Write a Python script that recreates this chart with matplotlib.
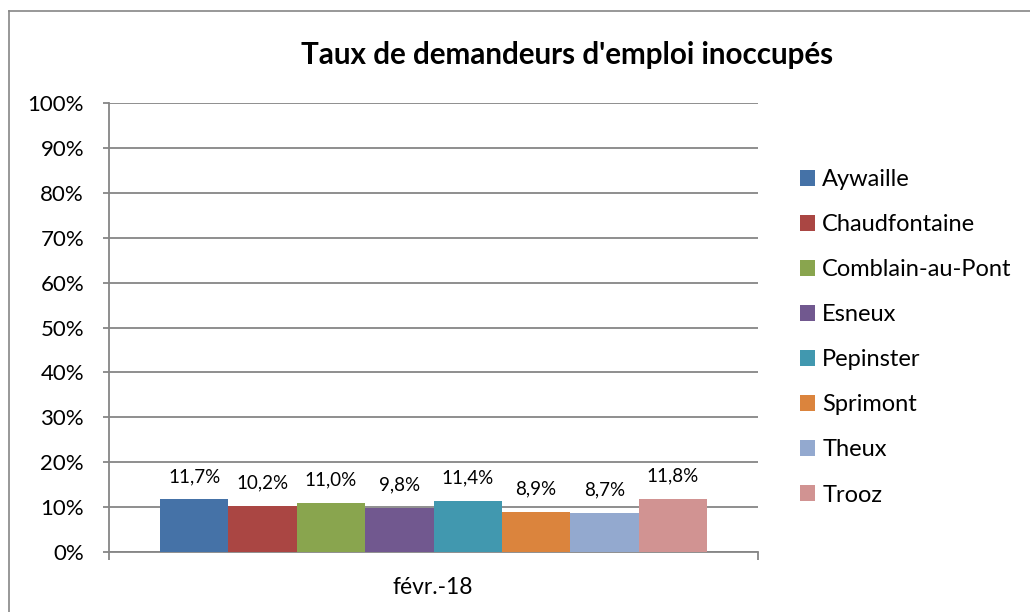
import matplotlib
matplotlib.use("Agg")
import matplotlib.pyplot as plt
from matplotlib.lines import Line2D
from matplotlib.ticker import FuncFormatter

title = "Taux de demandeurs d'emploi inoccupés"
category = "févr.-18"
communes = ["Aywaille", "Chaudfontaine", "Comblain-au-Pont", "Esneux",
            "Pepinster", "Sprimont", "Theux", "Trooz"]
values = [11.7, 10.2, 11.0, 9.8, 11.4, 8.9, 8.7, 11.8]
colors = ["#4572A7", "#AA4643", "#89A54E", "#71588F",
          "#4198AF", "#DB843D", "#93A9CF", "#D19392"]
yticks = [0, 10, 20, 30, 40, 50, 60, 70, 80, 90, 100]

plt.rcParams['font.family'] = ['Lato', 'DejaVu Sans']

W, H = 1030, 612
fig = plt.figure(figsize=(W / 100, H / 100), dpi=100)
fig.patch.set_facecolor("white")

# outer chart border: only left and top edges are visible in the reference
bc = "#868686"
fig.lines.append(Line2D([8.5 / W, 8.5 / W], [0, 1 - 10.5 / H],
                        transform=fig.transFigure, color=bc, linewidth=1.2))
fig.lines.append(Line2D([8.5 / W, 1.0], [1 - 10.5 / H, 1 - 10.5 / H],
                        transform=fig.transFigure, color=bc, linewidth=1.2))

ax = fig.add_axes([109 / W, 1 - 552 / H, (758 - 109) / W, (552 - 103) / H])
grid_c = "#868686"

total = 0.843
n = len(values)
bw = total / n
for i, (name, v, c) in enumerate(zip(communes, values, colors)):
    x = -total / 2 + bw * (i + 0.5)
    ax.bar(x, v, width=bw, color=c, label=name, zorder=3)
    ax.annotate(f"{v:.1f}%".replace(".", ","), (x, v), xytext=(0, 16.5),
                textcoords="offset points", ha="center", va="center",
                fontsize=13.5, color="black")

ax.set_xlim(-0.5, 0.5)
ax.set_ylim(0, 100)
ax.set_yticks(yticks)
ax.yaxis.set_major_formatter(FuncFormatter(lambda v, p: f"{int(v)}%"))
ax.grid(axis="y", color=grid_c, linewidth=1.3, zorder=0)
ax.set_xticks([-0.5, 0.5])
ax.set_xticklabels(["", ""])
ax.tick_params(axis="x", length=6, color=grid_c, width=1.3)
ax.tick_params(axis="y", length=4.5, color=grid_c, width=1.3, labelsize=16,
               pad=13.5)
for s in ["top", "right"]:
    ax.spines[s].set_visible(False)
for s in ["left", "bottom"]:
    ax.spines[s].set_color(grid_c)
    ax.spines[s].set_linewidth(1.3)

fig.text(433 / W, 1 - 588 / H, category, ha="center", va="center", fontsize=16.5)
fig.text(567 / W, 1 - 55 / H, title, ha="center", va="center", fontsize=21.3,
         fontweight="bold")

leg = fig.legend(loc="upper left", bbox_to_anchor=(800 / W, 1 - 169 / H),
                 frameon=False, fontsize=17, handlelength=0.64,
                 handleheight=0.64, handletextpad=0.3, labelspacing=1.02,
                 borderaxespad=0, borderpad=0)

fig.savefig("out.png", dpi=100, facecolor="white")
